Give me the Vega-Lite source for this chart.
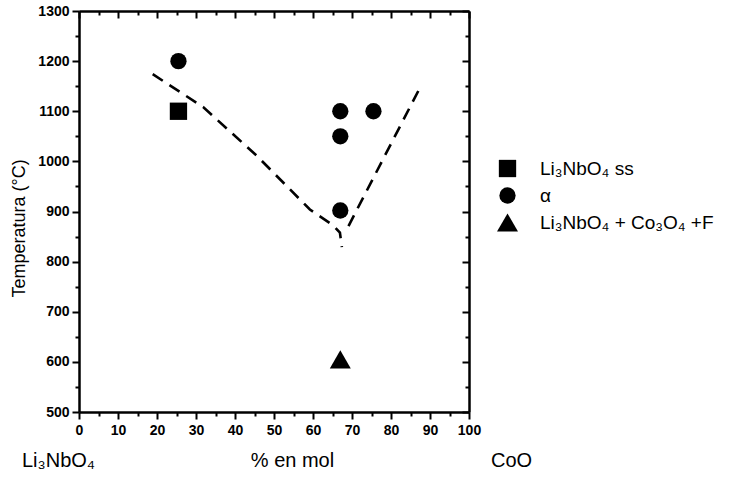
{
  "$schema": "https://vega.github.io/schema/vega-lite/v6.json",
  "width": 390,
  "height": 401,
  "autosize": "none",
  "padding": {"left": 79, "top": 11, "right": 261, "bottom": 66},
  "background": "white",
  "config": {
    "view": {"stroke": null},
    "font": "Liberation Sans",
    "axis": {
      "domainColor": "black",
      "domainWidth": 2.5,
      "tickColor": "black",
      "tickWidth": 2,
      "grid": false,
      "labelColor": "black",
      "labelFont": "Liberation Sans",
      "labelFontSize": 14,
      "labelFontWeight": "bold",
      "titleColor": "black",
      "titleFont": "Liberation Sans",
      "titleFontWeight": "normal",
      "labelOverlap": false,
      "labelFlush": false,
      "labelBound": false
    },
    "legend": {
      "titleColor": "black"
    }
  },
  "datasets": {
    "puntos": [
      {"x": 25.5, "T": 1200, "fase": "α"},
      {"x": 25.5, "T": 1100, "fase": "Li₃NbO₄ ss"},
      {"x": 67, "T": 1100, "fase": "α"},
      {"x": 75.5, "T": 1100, "fase": "α"},
      {"x": 67, "T": 1050, "fase": "α"},
      {"x": 67, "T": 902, "fase": "α"},
      {"x": 67, "T": 605, "fase": "Li₃NbO₄ + Co₃O₄ +F"}
    ],
    "linea": [
      {"x": 18.9, "T": 1174, "rama": "izq"},
      {"x": 31.9, "T": 1108, "rama": "izq"},
      {"x": 45.6, "T": 1011, "rama": "izq"},
      {"x": 59.2, "T": 904, "rama": "izq"},
      {"x": 65.2, "T": 872, "rama": "izq"},
      {"x": 66.9, "T": 858, "rama": "izq"},
      {"x": 67.4, "T": 829, "rama": "izq"},
      {"x": 69.1, "T": 871, "rama": "der"},
      {"x": 87.9, "T": 1154, "rama": "der"}
    ]
  },
  "layer": [
    {
      "data": {"name": "linea"},
      "mark": {"type": "line", "color": "black", "strokeWidth": 2.6, "strokeDash": [12, 8]},
      "encoding": {
        "x": {
          "field": "x", "type": "quantitative",
          "scale": {"domain": [0, 100], "nice": false, "zero": false},
          "axis": {
            "orient": "bottom",
            "title": null,
            "values": [0,5,10,15,20,25,30,35,40,45,50,55,60,65,70,75,80,85,90,95,100],
            "labelExpr": "datum.value % 10 === 0 ? datum.label : ''",
            "tickSize": {"condition": {"test": "datum.value % 10 === 0", "value": 7}, "value": 4},
            "labelPadding": 4
          }
        },
        "y": {
          "field": "T", "type": "quantitative",
          "scale": {"domain": [500, 1300], "nice": false, "zero": false},
          "axis": {
            "orient": "left",
            "title": "Temperatura (°C)",
            "titleFontSize": 18,
            "titleX": -60,
            "titleY": 217,
            "titleBaseline": "middle",
            "titleAlign": "center",
            "titleAngle": -90,
            "values": [500,550,600,650,700,750,800,850,900,950,1000,1050,1100,1150,1200,1250,1300],
            "labelExpr": "datum.value % 100 === 0 ? format(datum.value, 'd') : ''",
            "tickSize": {"condition": {"test": "datum.value % 100 === 0", "value": 7}, "value": 4},
            "labelPadding": 3
          }
        },
        "detail": {"field": "rama"}
      }
    },
    {
      "data": {"name": "puntos"},
      "mark": {"type": "point", "filled": true, "color": "black", "opacity": 1},
      "encoding": {
        "x": {
          "field": "x", "type": "quantitative",
          "axis": {
            "orient": "top",
            "title": null,
            "labels": false,
            "values": [0,5,10,15,20,25,30,35,40,45,50,55,60,65,70,75,80,85,90,95,100],
            "tickSize": {"condition": {"test": "datum.value % 10 === 0", "value": -7}, "value": -4}
          }
        },
        "y": {
          "field": "T", "type": "quantitative",
          "axis": {
            "orient": "right",
            "title": null,
            "labels": false,
            "values": [500,550,600,650,700,750,800,850,900,950,1000,1050,1100,1150,1200,1250,1300],
            "tickSize": {"condition": {"test": "datum.value % 100 === 0", "value": -7}, "value": -4}
          }
        },
        "shape": {
          "field": "fase", "type": "nominal",
          "scale": {
            "domain": ["Li₃NbO₄ ss", "α", "Li₃NbO₄ + Co₃O₄ +F"],
            "range": ["square", "circle", "triangle-up"]
          },
          "legend": {
            "title": null,
            "orient": "none",
            "legendX": 417,
            "legendY": 148,
            "labelFont": "Liberation Sans",
            "labelFontSize": 19,
            "labelColor": "black",
            "labelOffset": 21,
            "labelLimit": 0,
            "rowPadding": 3,
            "symbolFillColor": "black",
            "symbolStrokeColor": "black",
            "symbolOpacity": 1
          }
        },
        "size": {
          "field": "fase", "type": "nominal",
          "scale": {
            "type": "ordinal",
            "domain": ["Li₃NbO₄ ss", "α", "Li₃NbO₄ + Co₃O₄ +F"],
            "range": [300, 265, 440]
          },
          "legend": {
            "title": null,
            "orient": "none",
            "legendX": 417,
            "legendY": 148,
            "labelFont": "Liberation Sans",
            "labelFontSize": 19,
            "labelColor": "black",
            "labelOffset": 21,
            "labelLimit": 0,
            "rowPadding": 3,
            "symbolFillColor": "black",
            "symbolStrokeColor": "black",
            "symbolOpacity": 1
          }
        }
      }
    },
    {
      "data": {"name": "puntos"},
      "mark": {"type": "point", "opacity": 0},
      "encoding": {
        "x": {
          "field": "x", "type": "quantitative",
          "axis": {
            "orient": "bottom",
            "title": "% en mol",
            "titleFontSize": 20,
            "titleX": 213,
            "titleY": 48,
            "titleBaseline": "middle",
            "titleAlign": "center",
            "titleAnchor": null,
            "domain": false,
            "ticks": false,
            "values": [0, 100],
            "labelExpr": "datum.value === 0 ? 'Li₃NbO₄' : 'CoO'",
            "labelFont": "Liberation Sans",
            "labelFontWeight": "normal",
            "labelFontSize": 20,
            "labelBaseline": "middle",
            "labelAlign": "center",
            "labelPadding": 48,
            "labelOffset": {"condition": {"test": "datum.value === 0", "value": -21}, "value": 42}
          }
        },
        "y": {"field": "T", "type": "quantitative", "axis": null}
      }
    }
  ],
  "resolve": {"axis": {"x": "independent", "y": "independent"}}
}
